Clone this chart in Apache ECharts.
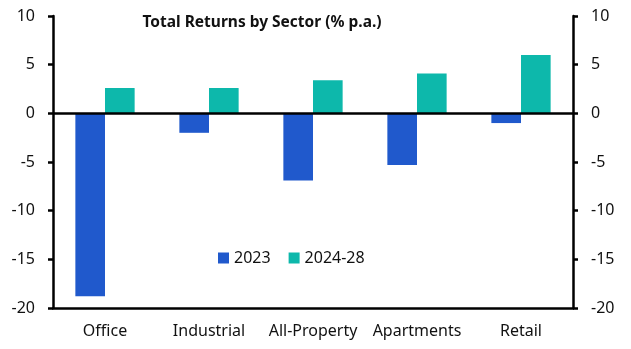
<!DOCTYPE html>
<html>
<head>
<meta charset="utf-8">
<script src="https://cdn.jsdelivr.net/npm/echarts@6/dist/echarts.min.js"></script>
<style>html,body{margin:0;padding:0;background:#fff}#c{width:631px;height:349px}</style>
</head>
<body>
<div id="c"></div>
<script>
const categories = ['Office', 'Industrial', 'All-Property', 'Apartments', 'Retail'];
const values2023 = [-18.8, -2.0, -6.9, -5.3, -1.0];
const values2024_28 = [2.6, 2.6, 3.4, 4.1, 6.0];
const seriesNames = ['2023', '2024-28'];
const yMin = -20, yMax = 10, yStep = 5;

const FONT = '"Noto Sans", sans-serif';
const chart = echarts.init(document.getElementById('c'), null, {renderer: 'canvas'});
const yAxisCommon = {
  type: 'value', min: yMin, max: yMax, interval: yStep,
  axisLine: {show: true, onZero: false, lineStyle: {color: '#000', width: 2.5}},
  axisTick: {show: true, length: 5, lineStyle: {color: '#000', width: 2.5}},
  splitLine: {show: false},
  axisLabel: {color: '#111', fontSize: 16, fontFamily: FONT, margin: 18}
};
chart.setOption({
  animation: false,
  title: {
    text: 'Total Returns by Sector (% p.a.)', left: 257, top: 10, textAlign: 'center',
    textStyle: {fontSize: 15.5, fontWeight: 'bold', fontFamily: FONT, color: '#111'}
  },
  legend: {
    data: seriesNames, left: 213, top: 245, itemWidth: 11, itemHeight: 11, itemGap: 18,
    icon: 'rect', textStyle: {fontSize: 16, fontFamily: FONT, color: '#111'}
  },
  grid: {left: 53, right: 58, top: 16, bottom: 41},
  xAxis: {
    type: 'category', data: categories, position: 'bottom',
    axisLine: {show: true, onZero: false, lineStyle: {color: '#000', width: 2.5}},
    axisTick: {show: false},
    axisLabel: {color: '#111', fontSize: 16, fontFamily: FONT, margin: 15, interval: 0}
  },
  yAxis: [
    Object.assign({}, yAxisCommon, {position: 'left'}),
    Object.assign({}, yAxisCommon, {position: 'right'})
  ],
  series: [
    {
      name: seriesNames[0], type: 'bar', data: values2023, barGap: '0%', barCategoryGap: '43%',
      itemStyle: {color: '#2059CC'},
      markLine: {
        silent: true, symbol: 'none', label: {show: false},
        lineStyle: {color: '#000', width: 2.5, type: 'solid'},
        data: [{yAxis: 0}]
      }
    },
    {
      name: seriesNames[1], type: 'bar', data: values2024_28, barGap: '0%', barCategoryGap: '43%',
      itemStyle: {color: '#0DB8AB'}
    }
  ]
});
</script>
</body>
</html>
